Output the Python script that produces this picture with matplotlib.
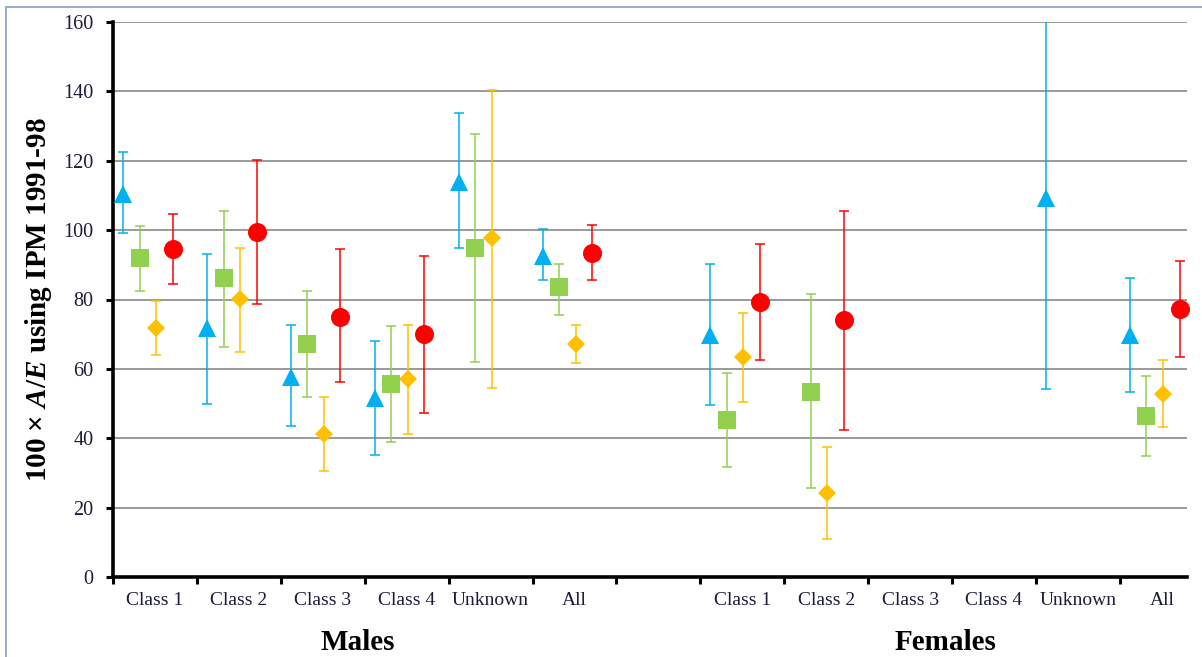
import numpy as np
import matplotlib
matplotlib.use('Agg')
import matplotlib.pyplot as plt
import matplotlib.transforms as mtransforms
from matplotlib.patches import Rectangle

plt.rcParams['font.family'] = 'Liberation Serif'
plt.rcParams['mathtext.fontset'] = 'custom'
plt.rcParams['mathtext.it'] = 'Liberation Serif:italic:bold'
plt.rcParams['mathtext.rm'] = 'Liberation Serif:bold'

categories = ['Class 1', 'Class 2', 'Class 3', 'Class 4', 'Unknown', 'All', '',
              'Class 1', 'Class 2', 'Class 3', 'Class 4', 'Unknown', 'All']
groups = ['Males', 'Females']
group_spans = [(0, 6), (7, 13)]

nan = np.nan
# 100 x A/E with lower / upper limits, one set per series
blue_val = [110.4, 71.7, 57.7, 51.5, 114.0, 92.6, nan, 69.8, nan, nan, nan, 109.2, 69.8]
blue_lo = [99.1, 50.0, 43.5, 35.3, 94.8, 85.6, nan, 49.6, nan, nan, nan, 54.2, 53.4]
blue_hi = [122.6, 93.0, 72.6, 68.1, 133.7, 100.4, nan, 90.2, nan, nan, nan, 170.0, 86.1]

green_val = [91.9, 86.1, 67.2, 55.6, 94.9, 83.5, nan, 45.4, 53.4, nan, nan, nan, 46.4]
green_lo = [82.4, 66.4, 51.9, 38.9, 62.1, 75.5, nan, 31.6, 25.6, nan, nan, nan, 34.9]
green_hi = [101.3, 105.6, 82.4, 72.4, 127.7, 90.2, nan, 58.9, 81.5, nan, nan, nan, 57.9]

orange_val = [71.7, 80.1, 41.2, 57.0, 97.6, 67.2, nan, 63.5, 24.1, nan, nan, nan, 52.8]
orange_lo = [64.0, 64.8, 30.6, 41.2, 54.6, 61.6, nan, 50.5, 10.9, nan, nan, nan, 43.2]
orange_hi = [79.7, 94.9, 51.9, 72.6, 140.3, 72.6, nan, 76.0, 37.6, nan, nan, nan, 62.6]

red_val = [94.5, 99.4, 75.0, 70.0, nan, 93.5, nan, 79.2, 74.1, nan, nan, nan, 77.3]
red_lo = [84.4, 78.7, 56.1, 47.4, nan, 85.6, nan, 62.6, 42.4, nan, nan, nan, 63.5]
red_hi = [104.6, 120.2, 94.5, 92.6, nan, 101.4, nan, 95.9, 105.6, nan, nan, nan, 91.2]

series = [
    (blue_val, blue_lo, blue_hi, '#00B0F0', '^', 12.5),
    (green_val, green_lo, green_hi, '#92D050', 's', 13.0),
    (orange_val, orange_lo, orange_hi, '#FFC000', 'D', 8.8),
    (red_val, red_lo, red_hi, '#FF0000', 'o', 13.7),
]

fig = plt.figure(figsize=(12.02, 6.57), dpi=100)
ax = fig.add_axes([113 / 1202, 1 - 577 / 657, 1074 / 1202, 555 / 657])

for k, (val, lo, hi, col, mk, ms) in enumerate(series):
    val = np.array(val)
    lo = np.array(lo)
    hi = np.array(hi)
    ok = ~np.isnan(val)
    x = np.arange(len(categories))[ok] + 0.12 + k * 0.197
    yerr = [val[ok] - lo[ok], hi[ok] - val[ok]]
    pts, caps, bars = ax.errorbar(x, val[ok], yerr=yerr, fmt='none', ecolor=col,
                                  elinewidth=1.1, capsize=3.6, capthick=1.1, zorder=3)
    # markers sit on top and may spill past the plot edge
    ax.plot(x, val[ok], mk, color=col, ms=ms, mew=0, zorder=4, clip_on=False)

ax.set_ylim(0, 160)
ax.set_xlim(0, 12.8)
ax.set_yticks(np.arange(0, 161, 20))
ax.yaxis.grid(True, color='#9A9A9A', lw=1.4)
ax.set_axisbelow(True)

ax.set_xticks(np.arange(0, 13))
ax.set_xticklabels([])
ax.set_xticks(np.arange(len(categories)) + 0.5, minor=True)
ax.set_xticklabels(categories, minor=True, fontsize=14, color='#1C1C3C')
ax.tick_params(axis='x', which='major', direction='out', length=5, width=2.2, color='black')
ax.tick_params(axis='x', which='minor', length=0, pad=11)
ax.tick_params(axis='y', direction='out', length=5, width=2.2, pad=9,
               labelsize=14.5, labelcolor='#1C1C3C')

for s in ['top', 'right']:
    ax.spines[s].set_visible(False)
for s in ['left', 'bottom']:
    ax.spines[s].set_linewidth(2.6)
    ax.spines[s].set_color('black')

ax.set_ylabel('100 × $A/E$ using IPM 1991-98', fontsize=21, fontweight='bold')
ax.yaxis.label.set_va('center')
ax.yaxis.set_label_coords(-0.069, 0.5)

trans = mtransforms.blended_transform_factory(ax.transData, ax.transAxes)
for name, (a, b) in zip(groups, group_spans):
    ax.text((a + b) / 2 - 0.08, -0.118, name, transform=trans, ha='center', va='center',
            fontsize=21, fontweight='bold')

# light frame round the chart area
fig.patches.append(Rectangle((6 / 1202, -0.1), 1.2, 1.1 - 7 / 657,
                             transform=fig.transFigure, fill=False,
                             edgecolor='#7F9FCF', lw=1.2))

fig.savefig('out.png', dpi=100)
